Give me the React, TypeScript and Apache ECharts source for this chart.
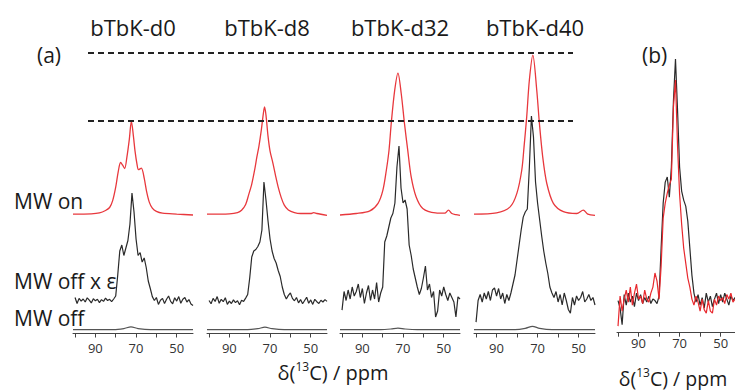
import React, { useEffect, useRef } from "react";
import * as echarts from "echarts";

// ---------- data (ppm, intensity; 1 unit = relative intensity) ----------
const sampleNames = ["bTbK-d0", "bTbK-d8", "bTbK-d32", "bTbK-d40"];
const traceLabels = ["MW on", "MW off x ε", "MW off"];
const tickMarks = [100, 90, 80, 70, 60, 50];
const tickLabels = [90, 70, 50];
const refLevels = [93.5, 70.8];

const ppmSteps = [
  100, 99, 98, 97, 96, 95, 94, 93, 92, 91, 90, 89, 88, 87, 86, 85, 84, 83, 82, 81,
  80, 79, 78, 77, 76, 75, 74, 73, 72, 71, 70, 69, 68, 67, 66, 65, 64, 63, 62, 61,
  60, 59, 58, 57, 56, 55, 54, 53, 52, 51, 50, 49, 48, 47, 46, 45, 44, 43, 42,
];

// MW on (red), smooth spectra
const onD0 = [
  [101, 0], [92, 0.1], [88, 0.4], [85, 1.2], [83, 2.2], [81.5, 4.5], [80, 9], [78.8, 14],
  [77.6, 17.2], [76.6, 16.3], [75.6, 15.2], [74.5, 19], [73.3, 25], [72.3, 31], [71.3, 26],
  [70.5, 21], [69.5, 16.5], [68.8, 14.8], [67.4, 15.3], [66, 12], [64.8, 7.5], [63.5, 4],
  [62, 2], [60, 0.9], [57, 0.3], [50, 0], [42, -0.3],
];
const onD8 = [
  [101, 0], [90, 0.1], [86, 0.5], [84, 1.3], [82, 3.2], [80.5, 6.5], [79, 10], [77.5, 15],
  [76.5, 19], [75.5, 22.5], [74.3, 28], [73.3, 33.5], [72.7, 35.7], [72, 33], [71, 26],
  [70, 21], [68.6, 17], [67.2, 12.5], [66, 9], [64.5, 5.5], [63, 3], [61, 1.4], [58, 0.5],
  [55, 0.2], [50, 0.2], [48.5, 0.5], [47, 0.2], [42, -0.4],
];
const onD32 = [
  [101, -0.3], [93, 0.2], [86.3, 1.1], [82.3, 3.6], [79.9, 8], [78.2, 14.7], [76.9, 21.3],
  [75.8, 30.3], [74.1, 41.3], [72.5, 47], [70.9, 40.2], [69.3, 30.2], [67.7, 21.3],
  [66, 12.4], [63.6, 5.8], [60.3, 1.9], [54, 0.4], [49.5, 0.3], [47.7, 1.3], [46, 0.2],
  [44, -0.2], [42, -0.4],
];
const onD40 = [
  [101, 0], [90, 0.4], [83.4, 2.4], [80.1, 6.9], [77.7, 14.7], [76.6, 22.4], [75.3, 32.4],
  [74, 44.7], [72.3, 53], [70.4, 41.3], [69.1, 30.2], [67.5, 19.1], [65.5, 10.2],
  [62.3, 3.6], [57.4, 0.8], [50.9, 0.2], [47.7, 1.3], [45.5, 0], [42, -0.4],
];

// MW off x epsilon (black), sampled at ppmSteps
const epsD0 = [
  1.5, -0.5, 1.2, 0.3, 1.0, 0.0, 1.4, 0.6, -0.3, 1.1, 0.4, 0.9, -0.2, 0.8, 0.2, 1.3, 0.5, 0.9, 0.1, 1.0,
  2.0, 9.0, 17.0, 19.0, 15.5, 18.0, 20.5, 26.0, 36.3, 30.0, 21.0, 15.5, 16.5, 13.3, 14.7, 11.5, 7.0, 4.5, 1.8, 0.5,
  1.5, -0.8, 0.6, 1.2, -0.5, 0.9, 2.0, 0.2, -0.6, 1.4, 0.3, 1.8, -0.4, 0.9, 1.5, 0.0, 0.8, -0.7, -1.2,
];
const epsD8 = [
  0.5, -0.6, 1.2, 0.2, 1.8, -0.4, 0.9, 0.1, 1.4, -0.8, 0.3, -0.5, 0.7, -0.2, 0.4, -0.9, 0.6, 0.2, 1.3, 2.5,
  8.0, 15.0, 17.0, 17.5, 18.5, 20.0, 24.0, 40.0, 34.0, 27.0, 21.0, 17.0, 14.5, 13.0, 10.5, 8.5, 5.0, 2.5, 1.0, 2.2,
  3.0, 1.2, 0.4, 1.5, -0.3, 0.8, -0.6, 0.5, 1.6, -0.4, 0.7, -0.8, 0.9, 0.1, -0.5, 0.6, 0.0, 0.8, 0.2,
];
const epsD32 = [
  -2.7, 3.5, 0.5, 4.0, 1.0, 5.0, 2.0, 3.5, 6.0, 1.5, 4.5, -0.5, 3.0, 5.5, 0.5, 4.0, 1.0, 6.5, 0.0, 3.0,
  5.0, 20.0, 22.0, 25.0, 28.0, 29.5, 33.0, 45.0, 52.0, 38.0, 33.0, 34.0, 31.0, 19.0, 15.5, 11.0, 8.0, 5.0, 2.5, 4.5,
  8.0, 12.0, 4.0, 6.0, 1.5, 3.5, -5.0, -3.0, 4.0, 2.0, 5.0, 2.5, 0.5, 3.0, 1.5, 0.0, -5.0, 1.7, 1.0,
];
const epsD40 = [
  -6.7, 0.5, 2.5, 0.0, 3.0, 1.0, 3.5, 0.5, 4.0, 4.7, 2.0, 4.5, 1.0, 3.0, -0.5, 2.5, 0.5, 3.0, 6.0, 9.0,
  14.0, 19.0, 24.0, 28.3, 30.0, 31.0, 45.0, 62.0, 55.0, 40.0, 33.0, 27.5, 22.0, 17.0, 13.0, 9.5, 5.0, 3.0, 1.5, 3.5,
  0.0, 2.5, -1.0, 3.0, 0.5, -2.5, -3.7, 1.5, -1.0, 2.0, 0.5, 1.5, 3.5, 0.0, 1.0, 2.5, 0.5, 1.5, -1.0,
];

// MW off (gray)
const offD0 = [[101, 0], [81, 0], [76, 0.35], [72.5, 0.9], [69, 0.35], [63, 0], [42, 0]];
const offD8 = [[101, 0], [81, 0], [76, 0.3], [72.5, 0.8], [69, 0.3], [63, 0], [42, 0]];
const offD32 = [[101, 0], [81, 0], [76, 0.2], [72.5, 0.5], [69, 0.2], [63, 0], [42, 0]];
const offD40 = [[101, 0], [81, 0], [76, 0.4], [72.5, 1.1], [69, 0.4], [63, 0], [42, 0]];

// panel (b): overlay of black and red
const bBlack = [
  0.5, -2, -7.5, 2.5, -1, 3, 0, 2, -1.5, 3, 0.5, 2.5, -0.5, 1.5, 0, 2, -0.5, 1, 0.5, -0.5,
  2, 18, 33, 40, 41.7, 35, 45, 67, 81, 64, 45, 37, 34, 32, 27, 18, 9, 3, 0, 2.5,
  -1, 1.5, -2, 3, 0, 2, -1.5, 1, 3, -0.5, 2.5, 0, 3, 1, -1, 2, 0.5, 1.5, 0.5,
];
const bRed = [
  -8, 2, -3, 1, 4, 0, 5, -1, 3, 6, 1, 2, -0.5, 4, 1, 0, 3, 5, 9.7, 7,
  1, 12, 28, 33, 36.3, 39, 41, 65, 74, 52, 36, 26, 18, 13, 8, 5, 1, -1, 2, 0,
  -3, 1, -2.5, -3.7, 0.5, -3, -3.7, 1, -1, 2, 0.5, 1.5, -0.5, 2.5, 1, 3, 0, 1, 0.5,
];

const onSpectra = [onD0, onD8, onD32, onD40];
const epsSpectra = [epsD0, epsD8, epsD32, epsD40];
const offSpectra = [offD0, offD8, offD32, offD40];

// ---------- layout ----------
const FONT = "'Open Sans', 'Noto Sans', sans-serif";
const RED = "#e8383d";
const DARK = "#2a2a2a";
const GRAY = "#555555";
const panelLefts = [73, 207, 340, 474];
const panelWidths = [120, 120, 120, 121];
const ON_OFFSET = 39.8;
const EPS_OFFSET = 10.5;
const OFF_OFFSET = 1.3;
const B_OFFSET = 10.2;

function App() {
  const ref = useRef<HTMLDivElement>(null);

  useEffect(() => {
    document.body.style.margin = "0";
    const chart = echarts.init(ref.current as HTMLDivElement, null, { renderer: "svg" });

    const grids: any[] = [];
    const xAxes: any[] = [];
    const yAxes: any[] = [];
    const series: any[] = [];

    const makeX = (i: number, min: number, max: number, margin: number) => ({
      gridIndex: i,
      type: "value",
      min,
      max,
      inverse: true,
      axisLine: { show: true, onZero: false, lineStyle: { color: "#444", width: 1 } },
      axisTick: {
        show: true,
        length: 4,
        inside: false,
        customValues: tickMarks,
        lineStyle: { color: "#444", width: 1 },
      },
      axisLabel: {
        show: true,
        customValues: tickLabels,
        fontSize: 13,
        color: "#333",
        margin,
        fontFamily: FONT,
      },
      splitLine: { show: false },
    });

    sampleNames.forEach((_, i) => {
      grids.push({ left: panelLefts[i], width: panelWidths[i], top: 33.5, height: 300 });
      xAxes.push(makeX(i, 42, 101, 8));
      yAxes.push({ gridIndex: i, type: "value", min: 0, max: 100, show: false });
      series.push({
        type: "line",
        xAxisIndex: i,
        yAxisIndex: i,
        data: onSpectra[i].map(([x, v]) => [x, v + ON_OFFSET]),
        smooth: 0.3,
        showSymbol: false,
        lineStyle: { color: RED, width: 1.3 },
      });
      series.push({
        type: "line",
        xAxisIndex: i,
        yAxisIndex: i,
        data: epsSpectra[i].map((v, k) => [ppmSteps[k], v + EPS_OFFSET]),
        showSymbol: false,
        lineStyle: { color: DARK, width: 1.2 },
      });
      series.push({
        type: "line",
        xAxisIndex: i,
        yAxisIndex: i,
        data: offSpectra[i].map(([x, v]) => [x, v + OFF_OFFSET]),
        smooth: 0.3,
        showSymbol: false,
        lineStyle: { color: GRAY, width: 1.2 },
      });
    });

    // panel (b)
    grids.push({ left: 617, width: 118, top: 32.7, height: 300 });
    xAxes.push(makeX(4, 43, 100.5, 4));
    yAxes.push({ gridIndex: 4, type: "value", min: 0, max: 100, show: false });
    series.push({
      type: "line",
      xAxisIndex: 4,
      yAxisIndex: 4,
      data: bBlack.map((v, k) => [ppmSteps[k], v + B_OFFSET]),
      showSymbol: false,
      lineStyle: { color: DARK, width: 1.2 },
    });
    series.push({
      type: "line",
      xAxisIndex: 4,
      yAxisIndex: 4,
      data: bRed.map((v, k) => [ppmSteps[k], v + B_OFFSET]),
      showSymbol: false,
      lineStyle: { color: "#e8282d", width: 1.2 },
    });

    // dashed reference lines
    grids.push({ left: 88, width: 485, top: 33.5, height: 300 });
    xAxes.push({ gridIndex: 5, type: "value", min: 0, max: 1, show: false });
    yAxes.push({ gridIndex: 5, type: "value", min: 0, max: 100, show: false });
    refLevels.forEach((lv) => {
      series.push({
        type: "line",
        xAxisIndex: 5,
        yAxisIndex: 5,
        data: [
          [0, lv],
          [1, lv],
        ],
        showSymbol: false,
        lineStyle: { color: "#222", width: 2, type: [6, 4] },
      });
    });

    const titleCenters = [133, 267, 400, 535];
    const graphic: any[] = [];
    sampleNames.forEach((name, i) => {
      graphic.push({
        type: "text",
        x: titleCenters[i],
        y: 27,
        style: {
          text: name,
          fontSize: 22,
          fontFamily: FONT,
          fill: "#1a1a1a",
          textAlign: "center",
          textVerticalAlign: "middle",
        },
      });
    });
    const labelYs = [201, 281, 318];
    traceLabels.forEach((t, i) => {
      graphic.push({
        type: "text",
        x: 14,
        y: labelYs[i],
        style: {
          text: t,
          fontSize: 21,
          fontFamily: FONT,
          fill: "#1a1a1a",
          textAlign: "left",
          textVerticalAlign: "middle",
        },
      });
    });
    graphic.push({
      type: "text",
      x: 37,
      y: 55,
      style: { text: "(a)", fontSize: 21, fontFamily: FONT, fill: "#1a1a1a", textAlign: "left", textVerticalAlign: "middle" },
    });
    graphic.push({
      type: "text",
      x: 642,
      y: 55,
      style: { text: "(b)", fontSize: 21, fontFamily: FONT, fill: "#1a1a1a", textAlign: "left", textVerticalAlign: "middle" },
    });
    const axisTitle = (cx: number, cy: number, fs: number) => ({
      type: "text",
      x: cx,
      y: cy,
      style: {
        text: "{n|δ(}{s|13}{n|C) / ppm}",
        textAlign: "center",
        textVerticalAlign: "middle",
        fill: "#1a1a1a",
        rich: {
          n: { fontSize: fs, fontFamily: FONT, fill: "#1a1a1a", lineHeight: fs + 4 },
          s: { fontSize: Math.round(fs * 0.62), fontFamily: FONT, fill: "#1a1a1a", verticalAlign: "top" },
        },
      },
    });
    graphic.push(axisTitle(333, 372, 20));
    graphic.push(axisTitle(673, 378, 19.5));

    chart.setOption({
      animation: false,
      backgroundColor: "#ffffff",
      grid: grids,
      xAxis: xAxes,
      yAxis: yAxes,
      series,
      graphic,
    });

    return () => chart.dispose();
  }, []);

  return <div ref={ref} style={{ width: 735, height: 390 }} />;
}

export default App;
